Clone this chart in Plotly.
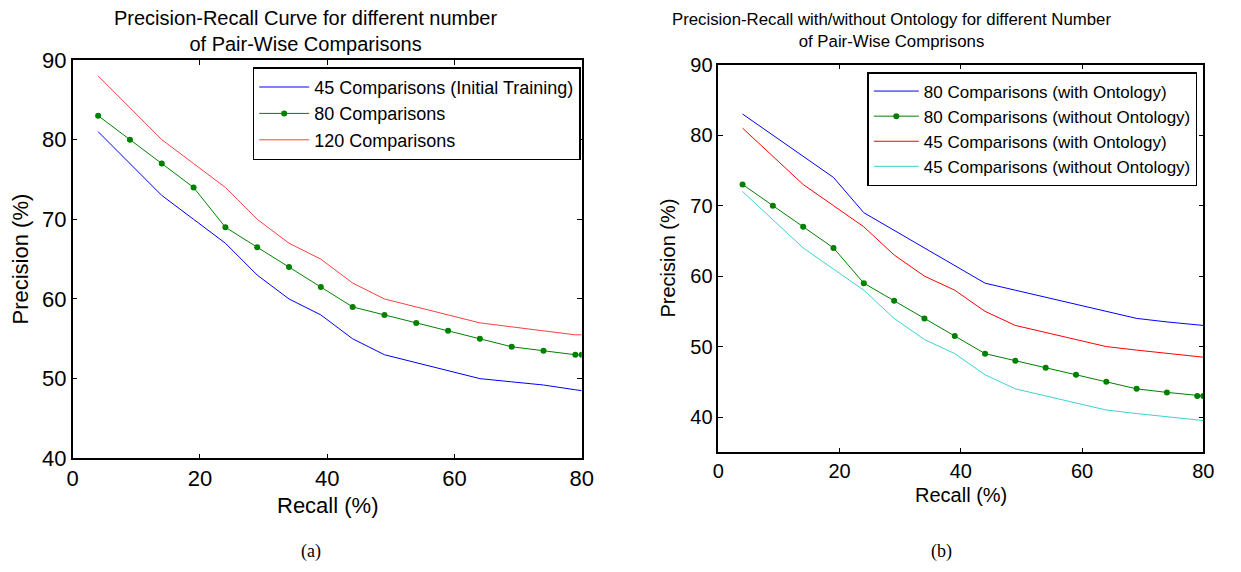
import plotly.graph_objects as go

# Recall points shared by every curve (%)
recall = [4, 9, 14, 19, 24, 29, 34, 39, 44, 49, 54, 59, 64, 69, 74, 79, 80]

# (a) precision for different numbers of pair-wise comparisons (%)
prec_45_initial = [81, 77, 73, 70, 67, 63, 60, 58, 55, 53, 52, 51, 50, 49.6, 49.2, 48.6, 48.5]
prec_80 = [83, 80, 77, 74, 69, 66.5, 64, 61.5, 59, 58, 57, 56, 55, 54, 53.5, 53, 53]
prec_120 = [88, 84, 80, 77, 74, 70, 67, 65, 62, 60, 59, 58, 57, 56.5, 56, 55.5, 55.5]

# (b) precision with / without ontology (%)
prec_80_onto = [83, 80, 77, 74, 69, 66.5, 64, 61.5, 59, 58, 57, 56, 55, 54, 53.5, 53, 53]
prec_80_noonto = [73, 70, 67, 64, 59, 56.5, 54, 51.5, 49, 48, 47, 46, 45, 44, 43.5, 43, 43]
prec_45_onto = [81, 77, 73, 70, 67, 63, 60, 58, 55, 53, 52, 51, 50, 49.5, 49, 48.6, 48.5]
prec_45_noonto = [72, 68, 64, 61, 58, 54, 51, 49, 46, 44, 43, 42, 41, 40.5, 40, 39.6, 39.5]

x_ticks = [0, 20, 40, 60, 80]
y_ticks_a = [40, 50, 60, 70, 80, 90]
y_ticks_b = [40, 50, 60, 70, 80, 90]

FONT = "Liberation Sans, Arial, sans-serif"
SERIF = "Liberation Serif, Times New Roman, serif"
W, H = 1241, 572

fig = go.Figure()

# ---- panel (a)
fig.add_trace(go.Scatter(x=recall, y=prec_45_initial, mode="lines",
                         name="45 Comparisons (Initial Training)",
                         line=dict(color="#0000ff", width=1), xaxis="x", yaxis="y", legend="legend"))
fig.add_trace(go.Scatter(x=recall, y=prec_80, mode="lines+markers",
                         name="80 Comparisons",
                         line=dict(color="#008000", width=1), marker=dict(color="#008000", size=6),
                         xaxis="x", yaxis="y", legend="legend"))
fig.add_trace(go.Scatter(x=recall, y=prec_120, mode="lines",
                         name="120 Comparisons",
                         line=dict(color="#ff4040", width=1), xaxis="x", yaxis="y", legend="legend"))

# ---- panel (b)
fig.add_trace(go.Scatter(x=recall, y=prec_80_onto, mode="lines",
                         name="80 Comparisons (with Ontology)",
                         line=dict(color="#0000ff", width=1), xaxis="x2", yaxis="y2", legend="legend2"))
fig.add_trace(go.Scatter(x=recall, y=prec_80_noonto, mode="lines+markers",
                         name="80 Comparisons (without Ontology)",
                         line=dict(color="#008000", width=1), marker=dict(color="#008000", size=6),
                         xaxis="x2", yaxis="y2", legend="legend2"))
fig.add_trace(go.Scatter(x=recall, y=prec_45_onto, mode="lines",
                         name="45 Comparisons (with Ontology)",
                         line=dict(color="#ff0000", width=1), xaxis="x2", yaxis="y2", legend="legend2"))
fig.add_trace(go.Scatter(x=recall, y=prec_45_noonto, mode="lines",
                         name="45 Comparisons (without Ontology)",
                         line=dict(color="#40d0d0", width=1), xaxis="x2", yaxis="y2", legend="legend2"))

# panel rectangles in pixels
ax_a = dict(x0=72.7, x1=581.7, y0=60.0, y1=458.3)
ax_b = dict(x0=718.3, x1=1203.3, y0=64.7, y1=452.3)


def xdom(a):
    return [a["x0"] / W, a["x1"] / W]


def ydom(a):
    return [1 - a["y1"] / H, 1 - a["y0"] / H]


def px(x, y):
    return dict(x=x / W, y=1 - y / H, xref="paper", yref="paper", showarrow=False)


def axis_style(size):
    return dict(showline=True, linecolor="black", linewidth=1.5, mirror="allticks",
                ticks="inside", ticklen=5, tickcolor="black", showgrid=False, zeroline=False,
                automargin=False,
                tickfont=dict(family=FONT, size=size, color="black"))


fig.update_layout(
    width=W, height=H,
    margin=dict(l=0, r=0, t=0, b=0, pad=0, autoexpand=False),
    paper_bgcolor="white", plot_bgcolor="white",
    font=dict(family=FONT, color="black"),
    showlegend=True,
    xaxis=dict(domain=xdom(ax_a), range=[0, 80], tickvals=x_ticks, anchor="y", **axis_style(22)),
    yaxis=dict(domain=ydom(ax_a), range=[40, 90], tickvals=y_ticks_a, anchor="x", **axis_style(22)),
    xaxis2=dict(domain=xdom(ax_b), range=[0, 80], tickvals=x_ticks, anchor="y2", **axis_style(20)),
    yaxis2=dict(domain=ydom(ax_b), range=[35, 90], tickvals=y_ticks_b, anchor="x2", **axis_style(20)),
    legend=dict(x=580.7 / W, y=1 - 67.3 / H, xanchor="right", yanchor="top",
                bgcolor="white", bordercolor="black", borderwidth=1.5,
                font=dict(family=FONT, size=18, color="black"), itemwidth=50,
                tracegroupgap=0),
    legend2=dict(x=1197.3 / W, y=1 - 72 / H, xanchor="right", yanchor="top",
                 bgcolor="white", bordercolor="black", borderwidth=1.5,
                 font=dict(family=FONT, size=17, color="black"), itemwidth=45,
                 tracegroupgap=0),
    annotations=[
        # panel titles
        dict(text="Precision-Recall Curve for different number<br>of Pair-Wise Comparisons",
             xanchor="center", yanchor="top", font=dict(family=FONT, size=20, color="black"),
             **px(305, 5)),
        dict(text="Precision-Recall with/without Ontology for different Number<br>of Pair-Wise Comprisons",
             xanchor="center", yanchor="top", font=dict(family=FONT, size=16.8, color="black"),
             **px(891, 8)),
        # axis titles
        dict(text="Recall (%)", xanchor="center", yanchor="middle",
             font=dict(family=FONT, size=22, color="black"), **px(327, 505)),
        dict(text="Precision (%)", xanchor="center", yanchor="middle", textangle=-90,
             font=dict(family=FONT, size=22, color="black"), **px(19.5, 259)),
        dict(text="Recall (%)", xanchor="center", yanchor="middle",
             font=dict(family=FONT, size=20, color="black"), **px(961, 495)),
        dict(text="Precision (%)", xanchor="center", yanchor="middle", textangle=-90,
             font=dict(family=FONT, size=20, color="black"), **px(668, 258.5)),
        # captions
        dict(text="(a)", xanchor="center", yanchor="middle",
             font=dict(family=SERIF, size=18, color="black"), **px(311, 551)),
        dict(text="(b)", xanchor="center", yanchor="middle",
             font=dict(family=SERIF, size=18, color="black"), **px(941, 551)),
    ],
)

# the page body keeps no default margin, so the figure fills the window exactly
fig.write_html("out.html",
               post_script="document.body.style.margin='0';document.body.style.padding='0';")
